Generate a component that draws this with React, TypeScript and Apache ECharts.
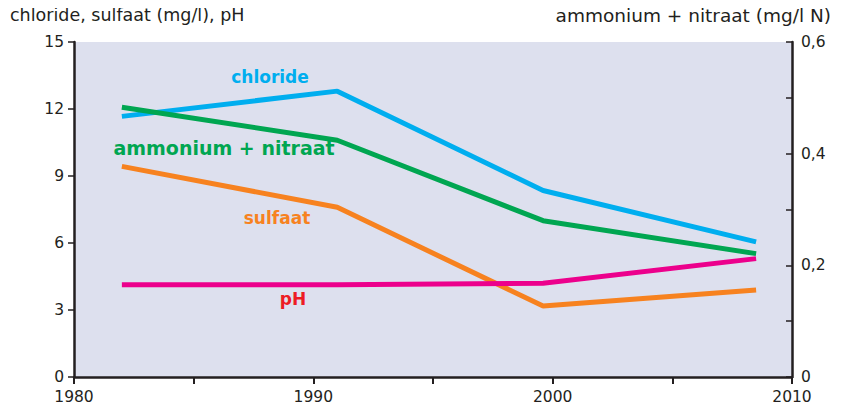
import React, { useEffect, useRef } from "react";
import * as echarts from "echarts";

const years = [1982, 1991, 1999.6, 2008.5];
const chloride = [11.67, 12.8, 8.35, 6.05];
const sulfaat = [9.43, 7.6, 3.18, 3.9];
const pH = [4.13, 4.13, 4.2, 5.3];
const ammoniumNitraat = [0.483, 0.424, 0.28, 0.221];

const leftTitle = "chloride, sulfaat (mg/l), pH";
const rightTitle = "ammonium + nitraat (mg/l N)";

const FONT = "'DejaVu Sans', 'Open Sans', sans-serif";
const DARK = "#231f20";

export default function App() {
  const ref = useRef<HTMLDivElement>(null);
  useEffect(() => {
    if (!ref.current) return;
    const chart = echarts.init(ref.current, undefined, { renderer: "svg" });
    const pts = (ys: number[]) => years.map((x, i) => [x, ys[i]]);
    chart.setOption({
      animation: false,
      grid: { left: 74, right: 51, top: 42, bottom: 35, show: true, backgroundColor: "#dde0ee", borderWidth: 0 },
      xAxis: {
        type: "value",
        min: 1980,
        max: 2010,
        interval: 5,
        axisLine: { show: true, onZero: false, lineStyle: { color: DARK, width: 2.5 } },
        axisTick: { show: true, length: 7, lineStyle: { color: DARK, width: 2 } },
        axisLabel: {
          color: DARK,
          fontFamily: FONT,
          fontSize: 15.5,
          margin: 12,
          formatter: (v: number) => (v % 10 === 0 ? String(v) : ""),
        },
        splitLine: { show: false },
      },
      yAxis: [
        {
          type: "value",
          min: 0,
          max: 15,
          interval: 3,
          position: "left",
          axisLine: { show: true, lineStyle: { color: DARK, width: 2.5 } },
          axisTick: { show: true, length: 6, lineStyle: { color: DARK, width: 1.5 } },
          axisLabel: { color: DARK, fontFamily: FONT, fontSize: 15.5, margin: 10 },
          splitLine: { show: false },
        },
        {
          type: "value",
          min: 0,
          max: 0.6,
          interval: 0.1,
          position: "right",
          axisLine: { show: true, lineStyle: { color: DARK, width: 2.5 } },
          axisTick: { show: true, inside: true, length: 6, lineStyle: { color: DARK, width: 1.5 } },
          axisLabel: {
            color: DARK,
            fontFamily: FONT,
            fontSize: 15.5,
            margin: 9,
            formatter: (v: number) => {
              const n = Math.round(v * 10);
              if (n % 2 !== 0) return "";
              return n === 0 ? "0" : "0," + n;
            },
          },
          splitLine: { show: false },
        },
      ],
      series: [
        { type: "line", name: "chloride", data: pts(chloride), showSymbol: false, lineStyle: { color: "#00aeef", width: 5 }, itemStyle: { color: "#00aeef" } },
        { type: "line", name: "ammonium + nitraat", yAxisIndex: 1, data: pts(ammoniumNitraat), showSymbol: false, lineStyle: { color: "#00a651", width: 5 }, itemStyle: { color: "#00a651" } },
        { type: "line", name: "sulfaat", data: pts(sulfaat), showSymbol: false, lineStyle: { color: "#f7821f", width: 5 }, itemStyle: { color: "#f7821f" } },
        { type: "line", name: "pH", data: pts(pH), showSymbol: false, lineStyle: { color: "#ec008c", width: 5 }, itemStyle: { color: "#ec008c" } },
      ],
      graphic: [
        { type: "text", left: 10, top: 6, style: { text: leftTitle, fontFamily: FONT, fontSize: 17.5, fill: DARK } },
        { type: "text", right: 12, top: 6, style: { text: rightTitle, fontFamily: FONT, fontSize: 18.5, fill: DARK } },
        { type: "text", x: 270, y: 77, style: { text: "chloride", fontFamily: FONT, fontSize: 17, fontWeight: "bold", fill: "#00aeef", align: "center", verticalAlign: "middle" } },
        { type: "text", x: 224, y: 148, style: { text: "ammonium + nitraat", fontFamily: FONT, fontSize: 19, fontWeight: "bold", fill: "#00a651", align: "center", verticalAlign: "middle" } },
        { type: "text", x: 277, y: 218, style: { text: "sulfaat", fontFamily: FONT, fontSize: 17, fontWeight: "bold", fill: "#f7821f", align: "center", verticalAlign: "middle" } },
        { type: "text", x: 293, y: 299, style: { text: "pH", fontFamily: FONT, fontSize: 17, fontWeight: "bold", fill: "#ed1c24", align: "center", verticalAlign: "middle" } },
      ],
    });
    return () => chart.dispose();
  }, []);
  return <div ref={ref} style={{ width: 843, height: 412, margin: -8 }} />;
}
